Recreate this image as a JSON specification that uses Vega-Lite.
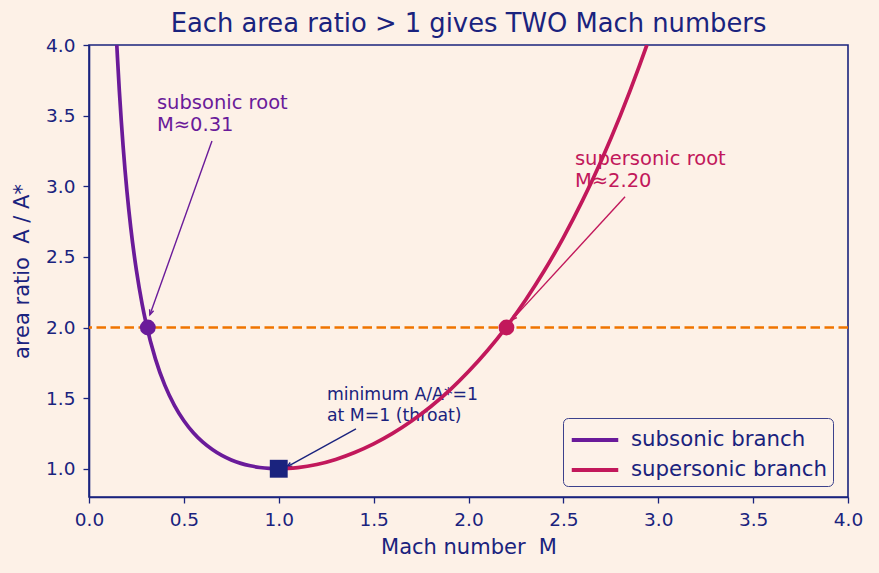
{
  "$schema": "https://vega.github.io/schema/vega-lite/v6.json",
  "width": 759,
  "height": 452,
  "autosize": {"type": "none"},
  "padding": {"left": 89, "top": 45, "right": 31, "bottom": 76},
  "background": "#fdf1e7",
  "title": {
    "text": "Each area ratio > 1 gives TWO Mach numbers",
    "font": "DejaVu Sans",
    "fontSize": 25.8,
    "fontWeight": "normal",
    "color": "#1a237e",
    "baseline": "alphabetic",
    "frame": "group",
    "offset": -22
  },
  "config": {
    "font": "DejaVu Sans",
    "view": {"stroke": "#1a237e", "strokeWidth": 1.6},
    "axis": {
      "domainColor": "#1a237e",
      "domainWidth": 1.6,
      "tickColor": "#1a237e",
      "tickWidth": 1.3,
      "tickSize": 6,
      "labelColor": "#1a237e",
      "titleColor": "#1a237e",
      "labelFont": "DejaVu Sans",
      "titleFont": "DejaVu Sans",
      "labelFontSize": 18.5,
      "titleFontSize": 21,
      "titleFontWeight": "normal",
      "labelFlush": false,
      "grid": false
    },
    "legend": {
      "labelFont": "DejaVu Sans",
      "labelFontSize": 21.3,
      "labelColor": "#1a237e",
      "labelLimit": 400,
      "symbolType": "M-1.55,0H1.55",
      "symbolStrokeWidth": 3.8,
      "symbolSize": 900,
      "symbolOffset": 10,
      "strokeColor": "#3c418c",
      "fillColor": "#fdf2e9",
      "cornerRadius": 5,
      "padding": 5,
      "rowPadding": 2,
      "labelOffset": 19
    }
  },
  "datasets": {
    "curve": [
      {"M": 0.1465, "ratio": 4.000, "branch": "subsonic branch"},
      {"M": 0.15, "ratio": 3.910, "branch": "subsonic branch"},
      {"M": 0.16, "ratio": 3.673, "branch": "subsonic branch"},
      {"M": 0.17, "ratio": 3.464, "branch": "subsonic branch"},
      {"M": 0.18, "ratio": 3.278, "branch": "subsonic branch"},
      {"M": 0.19, "ratio": 3.112, "branch": "subsonic branch"},
      {"M": 0.20, "ratio": 2.964, "branch": "subsonic branch"},
      {"M": 0.22, "ratio": 2.708, "branch": "subsonic branch"},
      {"M": 0.25, "ratio": 2.403, "branch": "subsonic branch"},
      {"M": 0.28, "ratio": 2.166, "branch": "subsonic branch"},
      {"M": 0.30, "ratio": 2.035, "branch": "subsonic branch"},
      {"M": 0.35, "ratio": 1.778, "branch": "subsonic branch"},
      {"M": 0.40, "ratio": 1.590, "branch": "subsonic branch"},
      {"M": 0.45, "ratio": 1.449, "branch": "subsonic branch"},
      {"M": 0.50, "ratio": 1.340, "branch": "subsonic branch"},
      {"M": 0.55, "ratio": 1.255, "branch": "subsonic branch"},
      {"M": 0.60, "ratio": 1.188, "branch": "subsonic branch"},
      {"M": 0.65, "ratio": 1.136, "branch": "subsonic branch"},
      {"M": 0.70, "ratio": 1.094, "branch": "subsonic branch"},
      {"M": 0.75, "ratio": 1.062, "branch": "subsonic branch"},
      {"M": 0.80, "ratio": 1.038, "branch": "subsonic branch"},
      {"M": 0.85, "ratio": 1.021, "branch": "subsonic branch"},
      {"M": 0.90, "ratio": 1.009, "branch": "subsonic branch"},
      {"M": 0.95, "ratio": 1.002, "branch": "subsonic branch"},
      {"M": 1.00, "ratio": 1.000, "branch": "subsonic branch"},
      {"M": 1.00, "ratio": 1.000, "branch": "supersonic branch"},
      {"M": 1.05, "ratio": 1.002, "branch": "supersonic branch"},
      {"M": 1.10, "ratio": 1.008, "branch": "supersonic branch"},
      {"M": 1.20, "ratio": 1.030, "branch": "supersonic branch"},
      {"M": 1.30, "ratio": 1.066, "branch": "supersonic branch"},
      {"M": 1.40, "ratio": 1.115, "branch": "supersonic branch"},
      {"M": 1.50, "ratio": 1.176, "branch": "supersonic branch"},
      {"M": 1.60, "ratio": 1.250, "branch": "supersonic branch"},
      {"M": 1.70, "ratio": 1.338, "branch": "supersonic branch"},
      {"M": 1.80, "ratio": 1.439, "branch": "supersonic branch"},
      {"M": 1.90, "ratio": 1.555, "branch": "supersonic branch"},
      {"M": 2.00, "ratio": 1.688, "branch": "supersonic branch"},
      {"M": 2.10, "ratio": 1.837, "branch": "supersonic branch"},
      {"M": 2.20, "ratio": 2.005, "branch": "supersonic branch"},
      {"M": 2.30, "ratio": 2.193, "branch": "supersonic branch"},
      {"M": 2.40, "ratio": 2.403, "branch": "supersonic branch"},
      {"M": 2.50, "ratio": 2.637, "branch": "supersonic branch"},
      {"M": 2.60, "ratio": 2.896, "branch": "supersonic branch"},
      {"M": 2.70, "ratio": 3.183, "branch": "supersonic branch"},
      {"M": 2.80, "ratio": 3.500, "branch": "supersonic branch"},
      {"M": 2.90, "ratio": 3.850, "branch": "supersonic branch"},
      {"M": 2.94, "ratio": 4.000, "branch": "supersonic branch"}
    ],
    "points": [
      {"kind": "subsonic root", "M": 0.31, "ratio": 2.0},
      {"kind": "supersonic root", "M": 2.20, "ratio": 2.0},
      {"kind": "throat", "M": 1.0, "ratio": 1.0}
    ],
    "notes": [
      {"kind": "subsonic root", "text": "subsonic root\nM≈0.31", "M": 0.358, "ratio": 3.547, "M_tail": 0.648, "ratio_tail": 3.321, "M_tip": 0.321, "ratio_tip": 2.09},
      {"kind": "supersonic root", "text": "supersonic root\nM≈2.20", "M": 2.561, "ratio": 3.151, "M_tail": 2.825, "ratio_tail": 2.925, "M_tip": 2.229, "ratio_tip": 2.054},
      {"kind": "throat", "text": "minimum A/A*=1\nat M=1 (throat)", "M": 1.254, "ratio": 1.488, "M_tail": 1.407, "ratio_tail": 1.283, "M_tip": 1.043, "ratio_tip": 1.014}
    ],
    "target": [{"ratio": 2.0}]
  },
  "layer": [
    {
      "data": {"name": "notes"},
      "transform": [{"filter": {"field": "kind", "equal": "subsonic root"}}],
      "layer": [
        {
          "mark": {"type": "text", "align": "left", "baseline": "alphabetic", "lineBreak": "\n", "fontSize": 19.5, "lineHeight": 22, "color": "#6a1b9a"},
          "encoding": {"x": {"field": "M", "type": "quantitative"}, "y": {"field": "ratio", "type": "quantitative"}, "text": {"field": "text"}}
        },
        {
          "mark": {"type": "rule", "color": "#6a1b9a", "strokeWidth": 1.4},
          "encoding": {"x": {"field": "M_tail", "type": "quantitative"}, "y": {"field": "ratio_tail", "type": "quantitative"}, "x2": {"field": "M_tip"}, "y2": {"field": "ratio_tip"}}
        },
        {
          "mark": {"type": "point", "shape": "M-0.55,1.3L0,0L0.55,1.3", "filled": false, "color": "#6a1b9a", "strokeWidth": 1.4, "size": 60, "opacity": 1, "angle": 199.6},
          "encoding": {"x": {"field": "M_tip", "type": "quantitative"}, "y": {"field": "ratio_tip", "type": "quantitative"}}
        }
      ]
    },
    {
      "data": {"name": "notes"},
      "transform": [{"filter": {"field": "kind", "equal": "supersonic root"}}],
      "layer": [
        {
          "mark": {"type": "text", "align": "left", "baseline": "alphabetic", "lineBreak": "\n", "fontSize": 19.5, "lineHeight": 22, "color": "#c2185b"},
          "encoding": {"x": {"field": "M", "type": "quantitative"}, "y": {"field": "ratio", "type": "quantitative"}, "text": {"field": "text"}}
        },
        {
          "mark": {"type": "rule", "color": "#c2185b", "strokeWidth": 1.4},
          "encoding": {"x": {"field": "M_tail", "type": "quantitative"}, "y": {"field": "ratio_tail", "type": "quantitative"}, "x2": {"field": "M_tip"}, "y2": {"field": "ratio_tip"}}
        },
        {
          "mark": {"type": "point", "shape": "M-0.55,1.3L0,0L0.55,1.3", "filled": false, "color": "#c2185b", "strokeWidth": 1.4, "size": 60, "opacity": 1, "angle": 222.6},
          "encoding": {"x": {"field": "M_tip", "type": "quantitative"}, "y": {"field": "ratio_tip", "type": "quantitative"}}
        }
      ]
    },
    {
      "data": {"name": "notes"},
      "transform": [{"filter": {"field": "kind", "equal": "throat"}}],
      "layer": [
        {
          "mark": {"type": "text", "align": "left", "baseline": "alphabetic", "lineBreak": "\n", "fontSize": 17.3, "lineHeight": 21, "color": "#1a237e"},
          "encoding": {"x": {"field": "M", "type": "quantitative"}, "y": {"field": "ratio", "type": "quantitative"}, "text": {"field": "text"}}
        },
        {
          "mark": {"type": "rule", "color": "#1a237e", "strokeWidth": 1.4},
          "encoding": {"x": {"field": "M_tail", "type": "quantitative"}, "y": {"field": "ratio_tail", "type": "quantitative"}, "x2": {"field": "M_tip"}, "y2": {"field": "ratio_tip"}}
        },
        {
          "mark": {"type": "point", "shape": "M-0.55,1.3L0,0L0.55,1.3", "filled": false, "color": "#1a237e", "strokeWidth": 1.4, "size": 60, "opacity": 1, "angle": 241.2},
          "encoding": {"x": {"field": "M_tip", "type": "quantitative"}, "y": {"field": "ratio_tip", "type": "quantitative"}}
        }
      ]
    },
    {
      "data": {"name": "target"},
      "mark": {"type": "rule", "color": "#ef7400", "strokeWidth": 2.5, "strokeDash": [9.5, 4.5]},
      "encoding": {"y": {"field": "ratio", "type": "quantitative"}}
    },
    {
      "data": {"name": "curve"},
      "mark": {"type": "line", "strokeWidth": 3.7, "clip": true, "interpolate": "monotone"},
      "encoding": {
        "x": {
          "field": "M",
          "type": "quantitative",
          "scale": {"domain": [0, 4], "nice": false},
          "axis": {"title": "Mach number\u00a0 M", "values": [0, 0.5, 1, 1.5, 2, 2.5, 3, 3.5, 4], "format": ".1f", "labelPadding": 7, "titlePadding": 8}
        },
        "y": {
          "field": "ratio",
          "type": "quantitative",
          "scale": {"domain": [0.8, 4], "nice": false, "zero": false},
          "axis": {"title": "area ratio\u00a0 A / A*", "values": [1, 1.5, 2, 2.5, 3, 3.5, 4], "format": ".1f", "labelPadding": 8, "titlePadding": 13}
        },
        "color": {
          "field": "branch",
          "type": "nominal",
          "scale": {"domain": ["subsonic branch", "supersonic branch"], "range": ["#6a1b9a", "#c2185b"]},
          "legend": {"title": null, "orient": "none", "legendX": 474, "legendY": 373}
        }
      }
    },
    {
      "data": {"name": "points"},
      "transform": [{"filter": {"field": "kind", "equal": "subsonic root"}}],
      "mark": {"type": "point", "shape": "circle", "filled": true, "opacity": 1, "size": 250, "color": "#6a1b9a"},
      "encoding": {"x": {"field": "M", "type": "quantitative"}, "y": {"field": "ratio", "type": "quantitative"}}
    },
    {
      "data": {"name": "points"},
      "transform": [{"filter": {"field": "kind", "equal": "supersonic root"}}],
      "mark": {"type": "point", "shape": "circle", "filled": true, "opacity": 1, "size": 250, "color": "#c2185b"},
      "encoding": {"x": {"field": "M", "type": "quantitative"}, "y": {"field": "ratio", "type": "quantitative"}}
    },
    {
      "data": {"name": "points"},
      "transform": [{"filter": {"field": "kind", "equal": "throat"}}],
      "mark": {"type": "point", "shape": "square", "filled": true, "opacity": 1, "size": 320, "color": "#1a237e"},
      "encoding": {"x": {"field": "M", "type": "quantitative"}, "y": {"field": "ratio", "type": "quantitative"}}
    }
  ]
}
